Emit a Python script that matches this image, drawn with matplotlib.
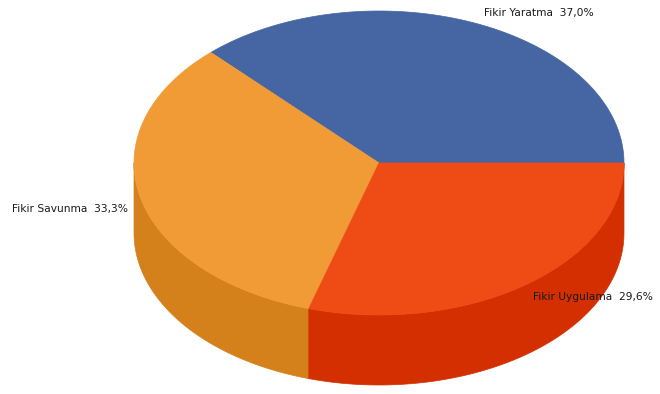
import numpy as np
import matplotlib.pyplot as plt
from matplotlib.patches import Polygon

# Veriler
etiketler = ['Fikir Yaratma', 'Fikir Savunma', 'Fikir Uygulama']
yuzdeler = [37.0, 33.3, 29.6]
renk_ust = ['#4566A3', '#F19B37', '#EE4B15']
renk_yan = ['#34508A', '#D5811B', '#D42F00']

# Geometri (piksel)
cx, cy = 379, 163
a, b = 245, 152
derinlik = 70
etiket_konum = [(484, 13), (12, 209), (533, 297)]


def elips(t):
    t = np.radians(t)
    return np.column_stack([cx + a * np.cos(t), cy - b * np.sin(t)])


fig = plt.figure(figsize=(6.6, 3.94), dpi=100)
ax = fig.add_axes([0, 0, 1, 1])
ax.set_xlim(0, 660)
ax.set_ylim(394, 0)
ax.axis('off')

oranlar = np.array(yuzdeler) / sum(yuzdeler) * 360
bitisler = np.cumsum(oranlar)
baslangiclar = bitisler - oranlar

# yan yuzeyler
for bas, bit, renk in zip(baslangiclar, bitisler, renk_yan):
    s, e = max(bas, 180), min(bit, 360)
    if s >= e:
        continue
    t = np.linspace(s, e, 100)
    ust = elips(t)
    alt = ust[::-1] + [0, derinlik]
    ax.add_patch(Polygon(np.vstack([ust, alt]), closed=True, facecolor=renk,
                         edgecolor=renk, lw=0.5))

# ust yuzeyler
for bas, bit, renk in zip(baslangiclar, bitisler, renk_ust):
    t = np.linspace(bas, bit, 200)
    noktalar = np.vstack([[cx, cy], elips(t)])
    ax.add_patch(Polygon(noktalar, closed=True, facecolor=renk,
                         edgecolor=renk, lw=0.5))

for etiket, yuzde, (x, y) in zip(etiketler, yuzdeler, etiket_konum):
    metin = f'{etiket}  {yuzde:.1f}%'.replace('.', ',')
    ax.text(x, y, metin, ha='left', va='center', fontsize=7.7,
            family='DejaVu Sans', color='#1a1a1a')

fig.savefig('out.png', dpi=100)
